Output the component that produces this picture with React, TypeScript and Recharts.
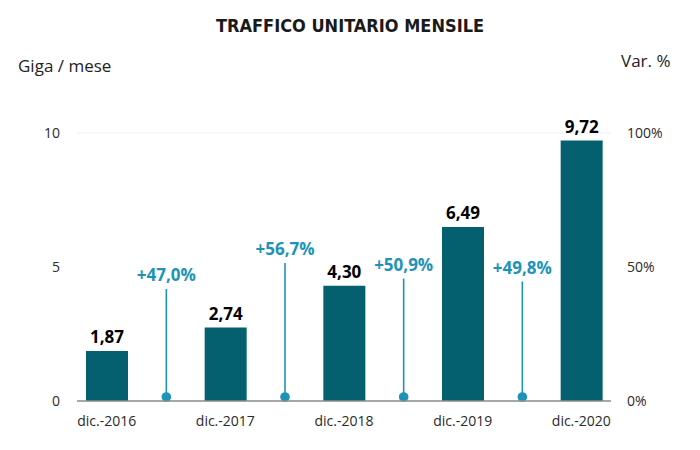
import { Bar, CartesianGrid, ComposedChart, LabelList, XAxis, YAxis } from "recharts";

const years = ["dic.-2016", "dic.-2017", "dic.-2018", "dic.-2019", "dic.-2020"];
const gigaPerMonth = [1.87, 2.74, 4.3, 6.49, 9.72];
const yearOnYear = [47.0, 56.7, 50.9, 49.8];
const leftTicks = [0, 5, 10];
const rightTicks = [0, 50, 100];

const BAR = "#04606e";
const LOLLI = "#1e93b8";
const FONT = "'Open Sans', 'Noto Sans', sans-serif";

// bars sit on even slots, the year-on-year markers between them
const rows: Array<{ label: string; giga: number | null; pct: number | null }> = [];
years.forEach((y, i) => {
  rows.push({ label: y, giga: gigaPerMonth[i], pct: null });
  if (i < yearOnYear.length) rows.push({ label: "", giga: null, pct: yearOnYear[i] });
});

const fmt = (v: number, d: number) => v.toFixed(d).replace(".", ",");

const Lollipop = (props: any) => {
  const { x, y, width, height } = props;
  if (height == null || height <= 0) return null;
  const cx = x + width / 2;
  const bottom = y + height;
  return (
    <g>
      <line x1={cx} x2={cx} y1={y + 14} y2={bottom - 4} stroke={LOLLI} strokeWidth={1.6} />
      <circle cx={cx} cy={bottom - 4} r={4.8} fill={LOLLI} />
    </g>
  );
};

export default function App() {
  return (
    <div style={{ position: "absolute", left: 0, top: 0, width: 700, height: 450, fontFamily: FONT }}>
      <div
        style={{
          position: "absolute",
          top: 15,
          width: 700,
          textAlign: "center",
          fontFamily: "'DejaVu Sans Condensed', 'Liberation Sans Narrow', sans-serif",
          fontStretch: "condensed",
          fontWeight: 700,
          fontSize: 18,
          color: "#1a1a1a",
        }}
      >
        TRAFFICO UNITARIO MENSILE
      </div>
      <div style={{ position: "absolute", left: 18, top: 54, fontSize: 17, color: "#222" }}>Giga / mese</div>
      <div style={{ position: "absolute", left: 621, top: 49, fontSize: 17, color: "#222" }}>Var. %</div>
      <ComposedChart
        width={700}
        height={450}
        data={rows}
        margin={{ top: 133, right: 19, left: 17, bottom: 19 }}
      >
        <CartesianGrid vertical={false} stroke="#f0f0f0" />
        <XAxis
          dataKey="label"
          axisLine={{ stroke: "#8c8c8c", strokeWidth: 1.5 }}
          tickLine={false}
          tickMargin={9}
          height={30}
          interval={0}
          tick={{ fill: "#2a2a2a", fontSize: 14, fontFamily: FONT }}
        />
        <XAxis xAxisId="var" dataKey="label" hide />
        <YAxis
          yAxisId="left"
          domain={[0, 10]}
          ticks={leftTicks}
          width={60}
          axisLine={false}
          tickLine={false}
          tickMargin={11}
          tick={{ fill: "#2a2a2a", fontSize: 14, fontFamily: FONT }}
        />
        <YAxis
          yAxisId="right"
          orientation="right"
          domain={[0, 100]}
          ticks={rightTicks}
          tickFormatter={(v: number) => `${v}%`}
          width={70}
          axisLine={false}
          tickLine={false}
          tickMargin={10}
          tick={{ fill: "#2a2a2a", fontSize: 14, fontFamily: FONT, textAnchor: "start" }}
        />
        <Bar dataKey="giga" yAxisId="left" fill={BAR} barSize={42} isAnimationActive={false}>
          <LabelList
            dataKey="giga"
            position="top"
            offset={8}
            formatter={(v: any) => (v == null ? "" : fmt(Number(v), 2))}
            style={{ fill: "#000", fontSize: 17, fontWeight: 700, fontFamily: FONT }}
          />
        </Bar>
        <Bar
          dataKey="pct"
          xAxisId="var"
          yAxisId="right"
          barSize={10}
          shape={<Lollipop />}
          isAnimationActive={false}
        >
          <LabelList
            dataKey="pct"
            position="top"
            offset={-6}
            formatter={(v: any) => (v == null ? "" : `+${fmt(Number(v), 1)}%`)}
            style={{ fill: LOLLI, fontSize: 17, fontWeight: 700, fontFamily: FONT }}
          />
        </Bar>
      </ComposedChart>
    </div>
  );
}
